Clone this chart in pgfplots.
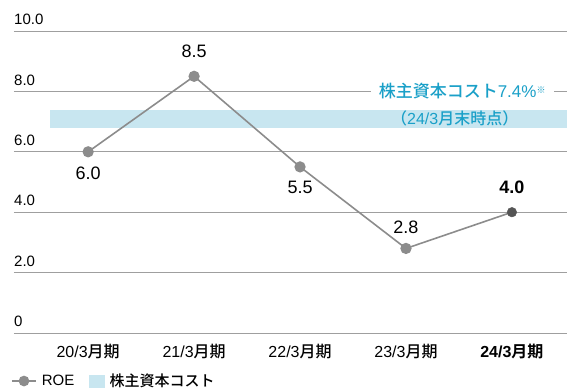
\documentclass[border=0pt]{standalone}
\usepackage{pgfplots}
\pgfplotsset{compat=1.18}
\usepackage{fontspec}
\setmainfont{Liberation Sans}
\newfontfamily\cjk{Noto Sans CJK JP}[UprightFont=* Medium, BoldFont=* Bold]
\definecolor{band}{HTML}{C8E6F0}
\definecolor{cyantext}{HTML}{1AA0C8}
\definecolor{roe}{HTML}{8C8C8C}
\definecolor{roedark}{HTML}{555555}
\begin{document}
\begin{tikzpicture}
\useasboundingbox (-14pt,-58pt) rectangle (553pt,333pt);
\begin{axis}[
  at={(0pt,0pt)}, anchor=south west,
  scale only axis, width=553pt, height=302pt,
  xmin=-0.7, xmax=4.52, ymin=0, ymax=10,
  axis line style={draw=none},
  clip=false,
  ytick={0,2,4,6,8,10},
  yticklabels={0,2.0,4.0,6.0,8.0,10.0},
  ymajorgrids, major grid style={color=gray!75, line width=0.8pt},
  major tick length=0pt,
  yticklabel style={anchor=south west, inner sep=0pt, yshift=6pt, font=\fontsize{15}{15}\selectfont},
  xtick={0,1,2,3,4},
  xticklabels={20/3{\cjk 月期},21/3{\cjk 月期},22/3{\cjk 月期},23/3{\cjk 月期},\textbf{24/3{\cjk\bfseries 月期}}},
  xticklabel style={anchor=center, yshift=-19pt, font=\fontsize{16}{16}\selectfont},
  legend style={at={(axis description cs:0,-0.159)}, anchor=west, xshift=-3pt, draw=none, fill=none,
    inner xsep=0pt, inner ysep=0pt, font=\fontsize{15}{15}\selectfont,
    /tikz/every odd column/.append style={column sep=3pt},
    /tikz/every even column/.append style={column sep=13pt}},
  legend columns=2,
  legend cell align=left,
]
\addplot[fill=band, draw=none, forget plot] coordinates {(-0.36,6.8) (4.52,6.8) (4.52,7.4) (-0.36,7.4)} -- cycle;
\addplot[color=roe, line width=1.6pt, mark=*, mark size=4.8pt, mark options={fill=roe, draw=none},
  legend image code/.code={\draw[roe, line width=1.6pt] (0pt,0pt) -- (24pt,0pt); \fill[roe] (12pt,0pt) circle (4.5pt);}]
  coordinates {(0,6.0) (1,8.5) (2,5.5) (3,2.8)};
\addlegendentry{ROE}
\addplot[color=roe, line width=1.6pt, forget plot] coordinates {(3,2.8) (4,4.0)};
\addplot[only marks, color=roedark, mark=*, mark size=4.8pt, mark options={fill=roedark, draw=none}, forget plot] coordinates {(4,4.0)};
\addplot[only marks, color=roe, mark=*, mark size=4.8pt, mark options={fill=roe, draw=none}, forget plot] coordinates {(3,2.8)};
\addlegendimage{legend image code/.code={\fill[band] (0pt,-6pt) rectangle (15pt,6pt);}}
\addlegendentry{\cjk 株主資本コスト}
\node[font=\fontsize{18}{18}\selectfont] at (axis cs:0,5.30) {6.0};
\node[font=\fontsize{18}{18}\selectfont] at (axis cs:1,9.34) {8.5};
\node[font=\fontsize{18}{18}\selectfont] at (axis cs:2,4.83) {5.5};
\node[font=\fontsize{18}{18}\selectfont] at (axis cs:3,3.51) {2.8};
\node[font=\fontsize{18}{18}\selectfont\bfseries] at (axis cs:4,4.83) {4.0};
\node[fill=white, text=cyantext, inner xsep=8pt, inner ysep=1pt, font=\fontsize{17}{17}\selectfont] at (axis cs:3.53,8.0) {{\cjk 株主資本コスト}7.4\%\raisebox{0.5ex}{\cjk\fontsize{9}{9}\selectfont ※}};
\node[text=cyantext, inner sep=0pt, font=\fontsize{16}{16}\selectfont] at (axis cs:3.46,7.12) {{\cjk （}24/3{\cjk 月末時点）}};
\end{axis}
\end{tikzpicture}
\end{document}
